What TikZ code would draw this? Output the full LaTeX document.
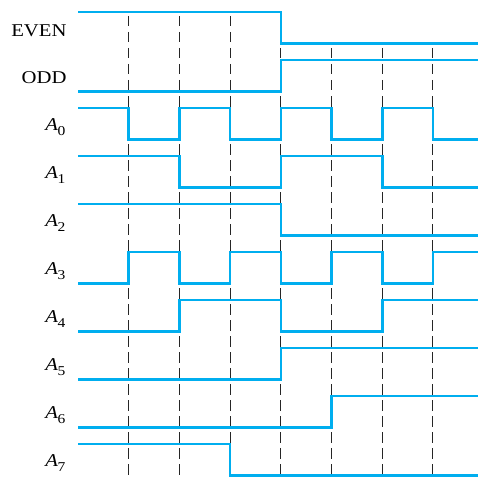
\documentclass[tikz,border=0pt]{standalone}
\usepackage{fontspec}
\setmainfont{Liberation Serif}
\newfontfamily\lblfam[FakeStretch=1.15]{Liberation Serif}
\definecolor{wavecol}{RGB}{0,174,239}
\newcommand\wave[3]{% #1 row, #2 first level, #3 levels
  \draw[wave] (78,{12+48*#1+31.5*(1-#2)})
    foreach \v [count=\k from 0] in {#3} {
      -- ({78+50.7*\k},{12+48*#1+31.5*(1-\v)})
      -- ({min(478,78+50.7*(\k+1))},{12+48*#1+31.5*(1-\v)})
    };
}
\newcommand\sigA[1]{\textit{A}\kern-0.5pt\raisebox{-5.5pt}{\fontsize{13.5}{14}\selectfont #1}}
\tikzset{
  wave/.style={draw=wavecol, line width=2.6pt, line join=miter, line cap=butt},
  guide/.style={draw=black!85, line width=1.1pt, dash pattern=on 10.5pt off 5.5pt},
  lbl/.style={anchor=base east, inner sep=0pt, font=\lblfam\fontsize{18}{20}\selectfont}
}
\begin{document}
\begin{tikzpicture}[x=1pt,y=-1pt]
\useasboundingbox (0,0) rectangle (478,476);
% time coordinates
\foreach \k in {1,...,7} { \coordinate (t\k) at ({78+50.7*\k},0); }
% dashed guides
\foreach \k in {1,2,3} { \draw[guide] (t\k |- 0,16) -- (t\k |- 0,476); }
\foreach \k in {4,...,7} { \draw[guide] (t\k |- 0,48) -- (t\k |- 0,476); }
% waveforms
\wave{0}{1}{1,1,1,1,0,0,0,0}
\wave{1}{0}{0,0,0,0,1,1,1,1}
\wave{2}{1}{1,0,1,0,1,0,1,0}
\wave{3}{1}{1,1,0,0,1,1,0,0}
\wave{4}{1}{1,1,1,1,0,0,0,0}
\wave{5}{0}{0,1,0,1,0,1,0,1}
\wave{6}{0}{0,0,1,1,0,0,1,1}
\wave{7}{0}{0,0,0,0,1,1,1,1}
\wave{8}{0}{0,0,0,0,0,1,1,1}
\wave{9}{1}{1,1,1,0,0,0,0,0}
% labels
\node[lbl] (lEVEN) at (66.7,36.6) {EVEN};
\node[lbl] (lODD) at (66.7,84) {ODD};
\node[lbl] (lA0) at (65.5,130) {\sigA{0}};
\node[lbl] (lA1) at (65.5,178) {\sigA{1}};
\node[lbl] (lA2) at (65.5,226) {\sigA{2}};
\node[lbl] (lA3) at (65.5,274) {\sigA{3}};
\node[lbl] (lA4) at (65.5,322) {\sigA{4}};
\node[lbl] (lA5) at (65.5,370) {\sigA{5}};
\node[lbl] (lA6) at (65.5,418) {\sigA{6}};
\node[lbl] (lA7) at (65.5,466) {\sigA{7}};
\end{tikzpicture}
\end{document}
